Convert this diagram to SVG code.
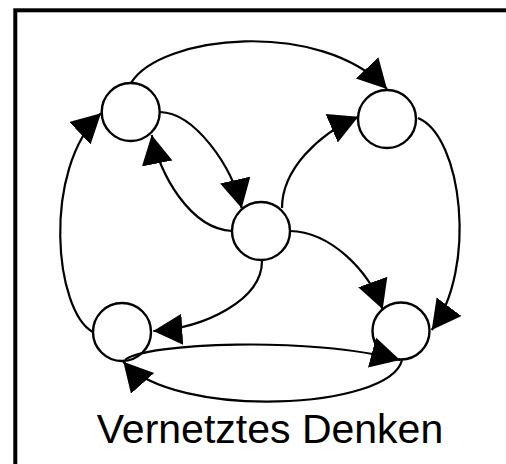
<svg xmlns="http://www.w3.org/2000/svg" width="506" height="464" viewBox="0 0 506 464">
<style>
.node{fill:#fff;stroke:#000;stroke-width:2.4}
.edge{fill:none;stroke:#000;stroke-width:2.2}
.frame{fill:none;stroke:#000;stroke-width:4}
.label{font-family:"Liberation Sans",Arial,sans-serif;font-size:41px;fill:#000}
</style>
<defs>
<marker id="ah" markerWidth="30" markerHeight="32" refX="29" refY="15.5" orient="auto" markerUnits="userSpaceOnUse">
<path d="M0,0 L29,15.5 L0,31 z" fill="#000"/>
</marker>
</defs>
<rect width="506" height="464" fill="#fff"/>
<rect class="frame" x="15.3" y="10.3" width="560" height="520"/>
<g id="node-tl"><circle class="node" cx="130.7" cy="112" r="29"/></g>
<g id="node-tr"><circle class="node" cx="387" cy="119" r="29"/></g>
<g id="node-c"><circle class="node" cx="261" cy="231" r="29"/></g>
<g id="node-bl"><circle class="node" cx="122" cy="332" r="29"/></g>
<g id="node-br"><circle class="node" cx="401" cy="331" r="28.5"/></g>
<g id="connectors">
<path class="edge" marker-end="url(#ah)" d="M131,83 C160,35 320,18 387,89"/>
<path class="edge" marker-end="url(#ah)" d="M160,112 C195,113 232,166 241.7,208.3"/>
<path class="edge" marker-end="url(#ah)" d="M232,231 C190,229 159,173 151.7,135"/>
<path class="edge" marker-end="url(#ah)" d="M282,208 C282,170 318,134 358.3,116.7"/>
<path class="edge" marker-end="url(#ah)" d="M418,118 C462,136 478,268 431.7,330"/>
<path class="edge" marker-end="url(#ah)" d="M290,231 C330,232 368,269 382.7,309.3"/>
<path class="edge" marker-end="url(#ah)" d="M262,261 C262,300 205,328 153.3,331"/>
<path class="edge" marker-end="url(#ah)" d="M93,332 C55,312 41,170 101,113.3"/>
<path class="edge" marker-end="url(#ah)" d="M125,360 C145,343 310,336 400,360"/>
<path class="edge" marker-end="url(#ah)" d="M402,360 C390,410 175,420 123.3,361.7"/>
</g>
<text class="label" x="270" y="443" text-anchor="middle">Vernetztes Denken</text>
</svg>
